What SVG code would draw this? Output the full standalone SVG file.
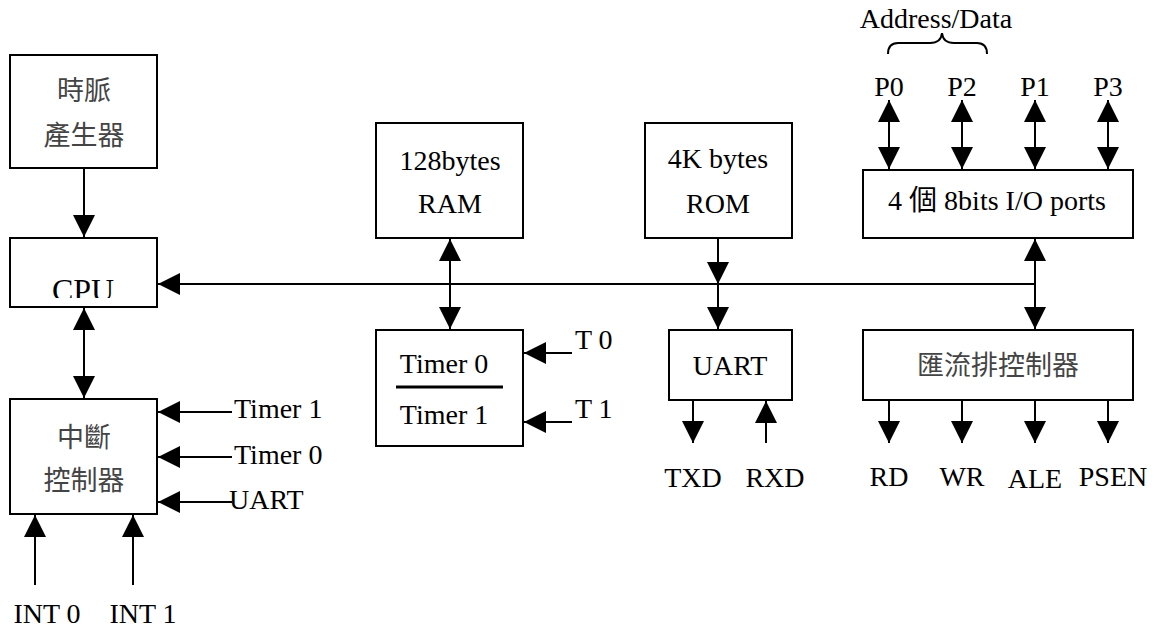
<svg xmlns="http://www.w3.org/2000/svg" width="1162" height="628" viewBox="0 0 1162 628">
<style>
.box{fill:#fff;stroke:#000;stroke-width:2}
.ln{stroke:#000;stroke-width:2;fill:none}
text{font-family:"Liberation Serif","Times New Roman",serif;font-size:28px;fill:#000}
text.c{font-family:"Liberation Serif","Noto Sans CJK TC",serif;fill:#444;font-size:27px}
.m{text-anchor:middle}
</style>
<defs>
<marker id="ah" markerUnits="userSpaceOnUse" markerWidth="22" markerHeight="22" refX="20" refY="10" orient="auto-start-reverse" viewBox="0 0 20 20">
<path d="M0,0 L20,10 L0,20 Z" fill="#000"/>
</marker>
<clipPath id="cpuclip"><rect x="10" y="238" width="147" height="60"/></clipPath>
</defs>
<g id="connectors">
<line class="ln" x1="84" y1="168" x2="84" y2="237" marker-end="url(#ah)"/>
<line class="ln" x1="1035" y1="284" x2="158" y2="284" marker-end="url(#ah)"/>
<line class="ln" x1="84" y1="308" x2="84" y2="398" marker-start="url(#ah)" marker-end="url(#ah)"/>
<line class="ln" x1="232" y1="412" x2="158" y2="412" marker-end="url(#ah)"/>
<line class="ln" x1="232" y1="457" x2="158" y2="457" marker-end="url(#ah)"/>
<line class="ln" x1="232" y1="502" x2="158" y2="502" marker-end="url(#ah)"/>
<line class="ln" x1="35" y1="585" x2="35" y2="515" marker-end="url(#ah)"/>
<line class="ln" x1="133" y1="585" x2="133" y2="515" marker-end="url(#ah)"/>
<line class="ln" x1="450" y1="239" x2="450" y2="329" marker-start="url(#ah)" marker-end="url(#ah)"/>
<line class="ln" x1="572" y1="353" x2="524" y2="353" marker-end="url(#ah)"/>
<line class="ln" x1="572" y1="422" x2="524" y2="422" marker-end="url(#ah)"/>
<line class="ln" x1="718" y1="238" x2="718" y2="284" marker-end="url(#ah)"/>
<line class="ln" x1="718" y1="284" x2="718" y2="329" marker-end="url(#ah)"/>
<line class="ln" x1="693" y1="400" x2="693" y2="443" marker-end="url(#ah)"/>
<line class="ln" x1="766" y1="443" x2="766" y2="401" marker-end="url(#ah)"/>
<line class="ln" x1="889" y1="100" x2="889" y2="169" marker-start="url(#ah)" marker-end="url(#ah)"/>
<line class="ln" x1="962" y1="100" x2="962" y2="169" marker-start="url(#ah)" marker-end="url(#ah)"/>
<line class="ln" x1="1035" y1="100" x2="1035" y2="169" marker-start="url(#ah)" marker-end="url(#ah)"/>
<line class="ln" x1="1108" y1="100" x2="1108" y2="169" marker-start="url(#ah)" marker-end="url(#ah)"/>
<line class="ln" x1="1035" y1="239" x2="1035" y2="329" marker-start="url(#ah)" marker-end="url(#ah)"/>
<line class="ln" x1="889" y1="400" x2="889" y2="443" marker-end="url(#ah)"/>
<line class="ln" x1="962" y1="400" x2="962" y2="443" marker-end="url(#ah)"/>
<line class="ln" x1="1035" y1="400" x2="1035" y2="443" marker-end="url(#ah)"/>
<line class="ln" x1="1108" y1="400" x2="1108" y2="443" marker-end="url(#ah)"/>
<path class="ln" d="M888,54 Q888,43 898,43 L930,43 Q941,43 942,33 Q943,43 954,43 L977,43 Q987,43 987,54"/>
</g>
<g id="clock">
<rect class="box" x="10" y="55" width="147" height="113"/>
<text class="c m" x="84" y="100">時脈</text>
<text class="c m" x="84" y="145">產生器</text>
</g>
<g id="cpu">
<rect class="box" x="10" y="238" width="147" height="69"/>
<text class="m" x="83" y="301" style="font-size:32px" clip-path="url(#cpuclip)">CPU</text>
</g>
<g id="interrupt">
<rect class="box" x="10" y="399" width="147" height="115"/>
<text class="c m" x="84" y="447">中斷</text>
<text class="c m" x="84" y="490">控制器</text>
<text x="234" y="418">Timer 1</text>
<text x="234" y="464">Timer 0</text>
<text x="229" y="509">UART</text>
<text class="m" x="47" y="623">INT 0</text>
<text class="m" x="143" y="623">INT 1</text>
</g>
<g id="ram">
<rect class="box" x="376" y="123" width="147" height="115"/>
<text class="m" x="450" y="170">128bytes</text>
<text class="m" x="450" y="213">RAM</text>
</g>
<g id="timer">
<rect class="box" x="376" y="330" width="147" height="116"/>
<text class="m" x="444" y="373">Timer 0</text>
<line x1="396" y1="387" x2="503" y2="387" stroke="#000" stroke-width="3"/>
<text class="m" x="444" y="424">Timer 1</text>
<text x="575" y="349">T 0</text>
<text x="575" y="418">T 1</text>
</g>
<g id="rom">
<rect class="box" x="645" y="123" width="147" height="115"/>
<text class="m" x="718" y="168">4K bytes</text>
<text class="m" x="718" y="213">ROM</text>
</g>
<g id="uart">
<rect class="box" x="669" y="330" width="123" height="70"/>
<text class="m" x="730" y="375">UART</text>
<text class="m" x="693" y="487">TXD</text>
<text class="m" x="775" y="487">RXD</text>
</g>
<g id="io">
<rect class="box" x="863" y="170" width="270" height="68"/>
<text class="m" x="997" y="210">4 <tspan font-family="'Noto Sans CJK TC', sans-serif">個</tspan> 8bits I/O ports</text>
<text class="m" x="936" y="28">Address/Data</text>
<text class="m" x="889" y="96">P0</text>
<text class="m" x="962" y="96">P2</text>
<text class="m" x="1035" y="96">P1</text>
<text class="m" x="1108" y="96">P3</text>
</g>
<g id="buscontrol">
<rect class="box" x="863" y="330" width="270" height="70"/>
<text class="c m" x="998" y="375">匯流排控制器</text>
<text class="m" x="889" y="486">RD</text>
<text class="m" x="962" y="486">WR</text>
<text class="m" x="1035" y="488">ALE</text>
<text class="m" x="1113" y="486">PSEN</text>
</g>
</svg>
